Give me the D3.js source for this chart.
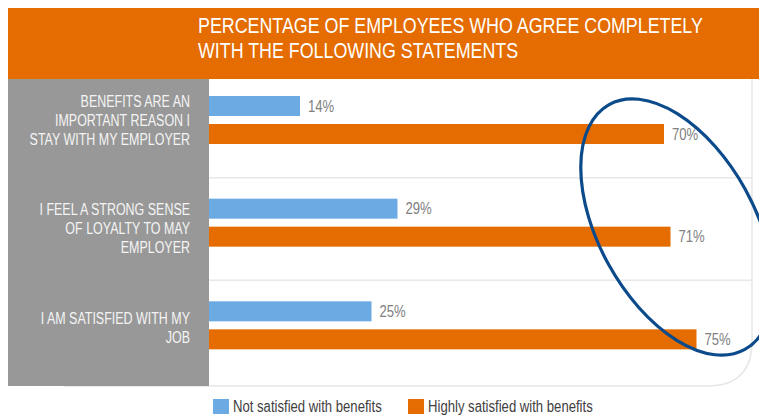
<!DOCTYPE html>
<html>
<head>
<meta charset="utf-8">
<script src="https://cdn.jsdelivr.net/npm/d3@7"></script>
<style>
  html, body { margin: 0; padding: 0; background: #ffffff; }
  svg { display: block; }
  text { font-family: "Liberation Sans", Arial, sans-serif; }
</style>
</head>
<body>
<svg id="chart" width="759" height="417"></svg>
<script>
// Survey statements (each split into its display lines)
const categories = [
  ["BENEFITS ARE AN", "IMPORTANT REASON I", "STAY WITH MY EMPLOYER"],
  ["I FEEL A STRONG SENSE", "OF LOYALTY TO MAY", "EMPLOYER"],
  ["I AM SATISFIED WITH MY", "JOB"]
];
const seriesNames = ["Not satisfied with benefits", "Highly satisfied with benefits"];
const notSatisfied = [14, 29, 25];
const highlySatisfied = [70, 71, 75];
const titleLines = [
  "PERCENTAGE OF EMPLOYEES WHO AGREE COMPLETELY",
  "WITH THE FOLLOWING STATEMENTS"
];

const colors = { blue: "#6caae4", orange: "#e46c00", gray: "#989898", ink: "#0b4a8b" };

// Narrow-face look: move each text's anchor into a transform and squeeze it horizontally
function condense(sel, f) {
  sel.each(function() {
    const t = d3.select(this);
    const tx = +t.attr("x") || 0, ty = +t.attr("y") || 0;
    t.attr("x", 0).attr("y", 0).attr("transform", `translate(${tx},${ty}) scale(${f},1)`);
  });
}

const svg = d3.select("#chart");

// Plot frame
const plotLeft = 209, plotRight = 752, plotTop = 79, plotBottom = 386;

const x = d3.scaleLinear().domain([0, 100]).range([plotLeft, plotLeft + 650]);
const y = d3.scaleBand().domain(d3.range(categories.length)).range([74, 382]);

// Light frame around plot with rounded lower-right corner
svg.append("path")
  .attr("d", `M${plotRight},${plotTop} L${plotRight},${plotBottom - 45} Q${plotRight},${plotBottom} ${plotRight - 45},${plotBottom} L64,${plotBottom}`)
  .attr("fill", "none").attr("stroke", "#e6e6e6").attr("stroke-width", 1.5);

// Header band
svg.append("rect").attr("x", 8).attr("y", 8).attr("width", 751).attr("height", 71).attr("fill", colors.orange);
svg.append("g").selectAll("text").data(titleLines).join("text")
  .attr("x", 198).attr("y", (d, i) => 33 + i * 25)
  .attr("fill", "#ffffff").attr("font-size", 21.5)
  .text(d => d)
  .call(condense, 0.83);

// Category label panel
svg.append("rect").attr("x", 8).attr("y", plotTop).attr("width", plotLeft - 8).attr("height", plotBottom - plotTop).attr("fill", colors.gray);

// Row separators
svg.append("g").selectAll("line").data(d3.range(1, categories.length)).join("line")
  .attr("x1", plotLeft).attr("x2", plotRight)
  .attr("y1", i => y(i) + 1).attr("y2", i => y(i) + 1)
  .attr("stroke", "#e8e8e8").attr("stroke-width", 1.5);

// Category labels, one text element per line
const firstBaseline = [107, 215, 324];
const labelLines = categories.flatMap((lines, i) =>
  lines.map((t, j) => ({ t, yy: firstBaseline[i] + j * 19 })));
svg.append("g").selectAll("text").data(labelLines).join("text")
  .attr("x", 190).attr("y", d => d.yy)
  .attr("text-anchor", "end").attr("fill", "#f4f4f4").attr("font-size", 16.3)
  .text(d => d.t)
  .call(condense, 0.765);

// Bars
const barH = 20, offBlue = 22, offOrange = 50;
const rows = categories.map((c, i) => ({ i, a: notSatisfied[i], b: highlySatisfied[i] }));

svg.append("g").selectAll("rect").data(rows).join("rect")
  .attr("x", x(0)).attr("y", d => y(d.i) + offBlue)
  .attr("width", d => x(d.a) - x(0)).attr("height", barH).attr("fill", colors.blue);
svg.append("g").selectAll("rect").data(rows).join("rect")
  .attr("x", x(0)).attr("y", d => y(d.i) + offOrange)
  .attr("width", d => x(d.b) - x(0)).attr("height", barH).attr("fill", colors.orange);

// Value labels
const valueLabels = svg.append("g").attr("fill", "#808080").attr("font-size", 16);
valueLabels.selectAll("text.a").data(rows).join("text").attr("class", "a")
  .attr("x", d => x(d.a) + 8).attr("y", d => y(d.i) + offBlue + barH / 2)
  .attr("dy", "0.36em").text(d => d.a + "%").call(condense, 0.82);
valueLabels.selectAll("text.b").data(rows).join("text").attr("class", "b")
  .attr("x", d => x(d.b) + 8).attr("y", d => y(d.i) + offOrange + barH / 2)
  .attr("dy", "0.36em").text(d => d.b + "%").call(condense, 0.82);

// Highlight ellipse around the "highly satisfied" values
svg.append("ellipse")
  .attr("cx", 677).attr("cy", 227).attr("rx", 140).attr("ry", 78)
  .attr("transform", "rotate(61 677 227)")
  .attr("fill", "none").attr("stroke", colors.ink).attr("stroke-width", 3.2);

// Legend
const legend = svg.append("g");
const legendItems = [
  { name: seriesNames[0], color: colors.blue, x: 213 },
  { name: seriesNames[1], color: colors.orange, x: 408 }
];
const li = legend.selectAll("g").data(legendItems).join("g")
  .attr("transform", d => `translate(${d.x},399)`);
li.append("rect").attr("width", 16).attr("height", 15).attr("fill", d => d.color);
li.append("text").attr("x", 20).attr("y", 13).attr("fill", "#404040").attr("font-size", 16).text(d => d.name).call(condense, 0.82);
</script>
</body>
</html>
